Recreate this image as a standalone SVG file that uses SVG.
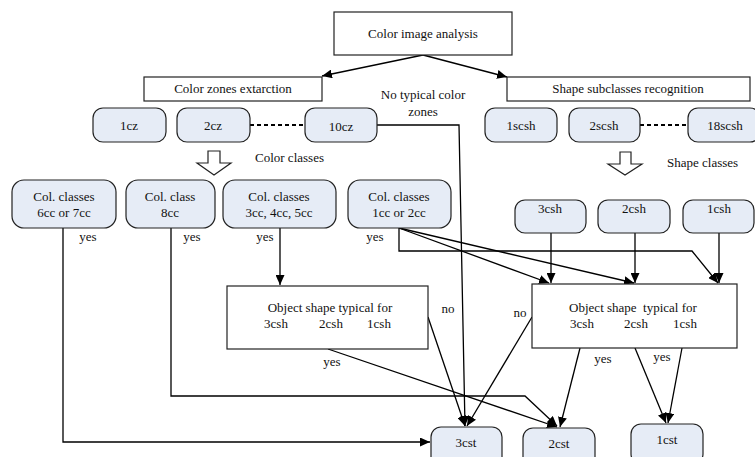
<svg xmlns="http://www.w3.org/2000/svg" width="755" height="457" viewBox="0 0 755 457" font-family="'Liberation Serif', 'Times New Roman', serif">
<defs>
<marker id="arr" markerUnits="userSpaceOnUse" markerWidth="11" markerHeight="9" refX="10" refY="4.5" orient="auto">
<path d="M0,0 L10,4.5 L0,9 z" fill="#000"/>
</marker>
<style>
text{font-family:'Liberation Serif','Times New Roman',serif;font-size:13px;fill:#111;text-anchor:middle}
.box{fill:#fff;stroke:#222;stroke-width:1.2}
.rnd{fill:#e6ecf6;stroke:#222;stroke-width:1.2}
.c{fill:none;stroke:#000;stroke-width:1.3}
.a{marker-end:url(#arr)}
.d{stroke-dasharray:4,3;stroke-width:2}
.hol{fill:#fff;stroke:#222;stroke-width:1.2}
.l{text-anchor:start}
</style>
</defs>
<rect width="755" height="457" fill="#fff"/>

<g id="connectors">
<path class="c a" d="M423,55 L322,76"/>
<path class="c a" d="M423,55 L507,77"/>
<path class="c d" d="M250,125 L305,125"/>
<path class="c d" d="M640,125 L688,125"/>
<path class="c a" d="M377,125 L459,125 L465,426"/>
<path class="c a" d="M63,228 V442 H430"/>
<path class="c a" d="M171,228 V396 H525 L557,426"/>
<path class="c a" d="M280,228 V285"/>
<path class="c a" d="M399,228 V251 H692 L718,283"/>
<path class="c a" d="M399,228 L549,283"/>
<path class="c a" d="M399,228 L634,283"/>
<path class="c a" d="M551,233 V283"/>
<path class="c a" d="M635,233 V283"/>
<path class="c a" d="M719,233 V283"/>
<path class="c a" d="M428,317 L465,426"/>
<path class="c a" d="M328,349 L557,427"/>
<path class="c a" d="M532,317 L467,426"/>
<path class="c a" d="M580,348 L560,427"/>
<path class="c a" d="M635,348 L666,423"/>
<path class="c a" d="M682,348 L668,423"/>
<polygon class="hol" points="208,151 220,151 220,163 231,163 214,175 197,163 208,163"/>
<polygon class="hol" points="620,152 631,152 631,164 642,164 625,175 608,164 620,164"/>
</g>

<g id="n_cia"><rect class="box" x="334" y="12" width="178" height="43"/><text x="423" y="38">Color image analysis</text></g>
<g id="n_cze"><rect class="box" x="144" y="77" width="178" height="24"/><text x="233" y="93">Color zones extarction</text></g>
<g id="n_ssr"><rect class="box" x="507" y="77" width="243" height="24"/><text x="628" y="93">Shape subclasses recognition</text></g>

<g id="cz1"><rect class="rnd" x="93" y="108" width="73" height="34" rx="10"/><text x="129" y="130">1cz</text></g>
<g id="cz2"><rect class="rnd" x="177" y="108" width="73" height="34" rx="10"/><text x="213" y="130">2cz</text></g>
<g id="cz10"><rect class="rnd" x="305" y="108" width="72" height="34" rx="10"/><text x="341" y="131">10cz</text></g>
<g id="scsh1"><rect class="rnd" x="485" y="108" width="72" height="34" rx="10"/><text x="521" y="130">1scsh</text></g>
<g id="scsh2"><rect class="rnd" x="569" y="108" width="71" height="34" rx="10"/><text x="604" y="130">2scsh</text></g>
<g id="scsh18"><rect class="rnd" x="688" y="108" width="72" height="34" rx="10"/><text x="725" y="130">18scsh</text></g>

<g id="lbl_top">
<text x="423" y="99">No typical color</text>
<text x="423" y="116">zones</text>
<text class="l" x="255" y="162">Color classes</text>
<text class="l" x="667" y="167">Shape classes</text>
</g>

<g id="cc67"><rect class="rnd" x="12" y="180" width="104" height="48" rx="12"/><text x="64" y="201">Col. classes</text><text x="64" y="217">6cc or 7cc</text></g>
<g id="cc8"><rect class="rnd" x="126" y="180" width="89" height="48" rx="12"/><text x="170" y="201">Col. class</text><text x="170" y="217">8cc</text></g>
<g id="cc345"><rect class="rnd" x="223" y="180" width="113" height="48" rx="12"/><text x="279" y="201">Col. classes</text><text x="279" y="217">3cc, 4cc, 5cc</text></g>
<g id="cc12"><rect class="rnd" x="348" y="180" width="103" height="48" rx="12"/><text x="399" y="201">Col. classes</text><text x="399" y="217">1cc or 2cc</text></g>

<g id="csh3"><rect class="rnd" x="515" y="200" width="71" height="33" rx="10"/><text x="550" y="213">3csh</text></g>
<g id="csh2"><rect class="rnd" x="598" y="200" width="72" height="33" rx="10"/><text x="634" y="213">2csh</text></g>
<g id="csh1"><rect class="rnd" x="683" y="200" width="71" height="33" rx="10"/><text x="719" y="213">1csh</text></g>

<g id="ob1"><rect class="box" x="227" y="286" width="201" height="63"/><text x="330" y="312">Object shape typical for</text><text x="276" y="328">3csh</text><text x="331" y="328">2csh</text><text x="379" y="328">1csh</text></g>
<g id="ob2"><rect class="box" x="532" y="284" width="205" height="64"/><text x="633" y="312" xml:space="preserve">Object shape  typical for</text><text x="582" y="328">3csh</text><text x="636" y="328">2csh</text><text x="685" y="328">1csh</text></g>

<g id="cst3"><rect class="rnd" x="431" y="427" width="71" height="40" rx="10"/><text x="466" y="447">3cst</text></g>
<g id="cst2"><rect class="rnd" x="523" y="428" width="72" height="40" rx="10"/><text x="559" y="448">2cst</text></g>
<g id="cst1"><rect class="rnd" x="631" y="424" width="72" height="40" rx="10"/><text x="667" y="444">1cst</text></g>

<g id="labels">
<text x="88" y="241">yes</text>
<text x="192" y="241">yes</text>
<text x="265" y="241">yes</text>
<text x="375" y="241">yes</text>
<text x="448" y="313">no</text>
<text x="332" y="366">yes</text>
<text x="520" y="317">no</text>
<text x="603" y="363">yes</text>
<text x="662" y="361">yes</text>
</g>
</svg>
